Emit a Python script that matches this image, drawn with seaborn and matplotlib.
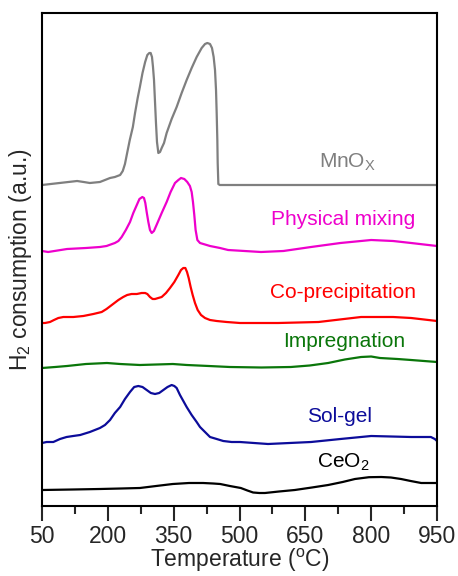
import matplotlib
matplotlib.use("Agg")
import matplotlib.pyplot as plt
import seaborn as sns
import pandas as pd

# H2-TPR profiles (temperature in degC, stacked intensity in a.u.)
mnox_t = [50, 90, 130, 145, 159, 182, 205, 216, 228, 234, 239, 244, 250, 257, 262, 268,
          273, 279, 285, 290, 294.5, 297.6, 300.6, 302.9, 305.2, 307.5, 309.7, 312, 315.1,
          318.9, 322.7, 328, 334, 345.4, 356.8, 368.2, 379.6, 391, 402.4, 413.8, 421.4,
          426.7, 432.8, 437.3, 441.1, 444.2, 446.5, 448, 449.5, 450.3, 451.8, 455, 950]
mnox_v = [321, 323, 325, 324, 323, 324, 328, 329, 331, 335, 342, 353, 366, 379, 393, 408,
          419, 433, 444, 451, 453, 453, 449, 439, 426, 404, 383, 364, 353,
          354, 358, 363, 373, 387, 399, 413, 426, 438, 449, 458, 462,
          463, 462, 458, 449, 436, 416, 393, 366, 343, 322, 321, 321]

phys_t = [50, 64, 107, 150, 182, 197, 216, 224, 231.5, 241, 250.5, 258, 266, 272, 278.6,
          282.4, 285.4, 288.5, 292.3, 296, 300, 305, 311, 322.7, 334, 343, 353, 360.7,
          366.7, 374.3, 381, 387, 391, 394, 397, 400, 404, 410, 417.6, 432.8, 455.6,
          474, 549, 600, 663, 730, 800, 850, 891, 950]
phys_v = [255, 254, 257, 258, 259, 260, 263, 265, 269, 276, 284, 293, 301, 307, 309,
          308, 303, 294, 284, 276, 273, 275, 281, 293, 304, 314, 323, 326,
          328, 327, 324, 320, 314, 304, 291, 276, 266, 263, 262, 260, 258,
          256, 254, 255, 259, 263, 266, 265, 263, 260]

copr_t = [50, 56.8, 68.2, 77.3, 87.2, 98.6, 121.4, 144.2, 167, 186, 197, 209, 224, 235,
          244, 254, 266, 277, 285, 290, 296, 302, 307.5, 315, 322.7, 332.5, 341.6, 351.5,
          360.6, 366.7, 372, 376.6, 380.4, 384.2, 388.7, 393.3, 398.6, 404.7, 412.3,
          421.4, 432.8, 448, 470.8, 501, 588, 680, 777, 850, 891, 950]
copr_v = [183, 183, 184, 186, 188, 189, 189, 190, 192, 194, 197, 201, 206, 209,
          211, 212, 212, 213, 213, 212, 209, 207, 207, 208, 209, 213, 218, 224,
          231, 236, 238, 238, 234, 228, 219, 211, 203, 196, 191,
          188, 186, 185, 184, 183, 183, 184, 189, 189, 188, 185]

impr_t = [50, 80, 107, 150, 198, 228, 273, 348, 380, 430, 478, 550, 617, 660, 702, 740,
          777, 800, 820, 860, 891, 950]
impr_v = [138, 139, 140, 142, 143, 142, 141, 142, 141, 140, 139, 138.5, 139, 140.5, 143,
          146.5, 149, 149.5, 148, 147, 146, 144]

solg_t = [50, 60.6, 75.8, 91, 106, 121, 137, 159, 182, 193.5, 205, 216, 228, 239, 250.5,
          260, 269.5, 279, 288.5, 298, 307.5, 317, 326.5, 336, 345.4, 351.5, 356.8, 364.4,
          372, 379.6, 391, 402.4, 410, 421.4, 432.8, 448, 463, 482, 501, 565, 663, 730,
          800, 891, 936, 945, 950]
solg_v = [63, 64, 64, 67, 69, 70, 71, 74, 78, 81, 86, 93, 99, 107, 114,
          119, 120, 119, 116, 113, 112, 113, 116, 119, 121, 120, 118, 111,
          105, 99, 91, 84, 79, 74, 69, 67, 65, 64, 64, 62, 64, 67,
          70, 69, 69, 67, 65]

ceo2_t = [50, 120, 182, 230, 273, 310, 348, 385, 417, 440, 456, 478, 503, 518, 531, 545,
          558, 590, 626, 665, 702, 735, 763, 795, 823, 845, 868, 890, 914, 930, 950]
ceo2_v = [16, 16.5, 17, 17.5, 18, 20, 22, 23, 23, 22.5, 22, 20, 18, 15.5, 13.5, 13,
          13, 14.5, 16, 18.5, 21, 24, 27, 28.8, 29, 28.5, 27, 25, 23, 23, 23]

samples = ["MnO$_\\mathregular{X}$", "Physical mixing", "Co-precipitation",
           "Impregnation", "Sol-gel", "CeO$_\\mathregular{2}$"]
colors = ["#7f7f7f", "#ee00cc", "#ff0000", "#0a760a", "#0c0c9a", "#000000"]
# label anchor (temperature, intensity) for each profile
label_t = [747, 737, 736, 739, 729, 736]
label_v = [338, 281, 208, 159, 84, 38]

x_ticks = [50, 200, 350, 500, 650, 800, 950]

series = [(mnox_t, mnox_v), (phys_t, phys_v), (copr_t, copr_v),
          (impr_t, impr_v), (solg_t, solg_v), (ceo2_t, ceo2_v)]
frames = []
for name, (t, v) in zip(samples, series):
    frames.append(pd.DataFrame({"T": t, "I": v, "sample": name}))
df = pd.concat(frames, ignore_index=True)

sns.set_style("ticks")
plt.rcParams["font.family"] = ["Liberation Sans", "DejaVu Sans"]
plt.rcParams["mathtext.fontset"] = "custom"
plt.rcParams["mathtext.rm"] = "Liberation Sans"
plt.rcParams["mathtext.it"] = "Liberation Sans:italic"

fig = plt.figure(figsize=(4.58, 5.76), dpi=100)
ax = fig.add_axes([42 / 458, 70 / 576, 395 / 458, 493 / 576])

sns.lineplot(data=df, x="T", y="I", hue="sample", palette=colors, hue_order=samples,
             linewidth=1.6, legend=False, ax=ax, sort=False, estimator=None)

for name, c, lt, lv in zip(samples, colors, label_t, label_v):
    ax.text(lt, lv, name, color=c, fontsize=15, ha="center", va="baseline")

ax.set_xlim(50, 950)
ax.set_ylim(0, 493)
ax.set_xticks(x_ticks)
ax.set_xticks([125, 275, 425, 575, 725, 875], minor=True)
ax.set_yticks([])
ax.tick_params(axis="x", which="major", direction="out", length=11, width=1.5,
               labelsize=16.5, pad=3)
ax.tick_params(axis="x", which="minor", direction="out", length=6, width=1.5)
for s in ax.spines.values():
    s.set_linewidth(1.5)
    s.set_color("black")

ax.set_xlabel("Temperature ($^\\mathregular{o}$C)", fontsize=16.5)
ax.xaxis.set_label_coords(0.5, -0.083)
ax.set_ylabel("H$_\\mathregular{2}$ consumption (a.u.)", fontsize=16.5, labelpad=6)

fig.savefig("out.png", dpi=100)
